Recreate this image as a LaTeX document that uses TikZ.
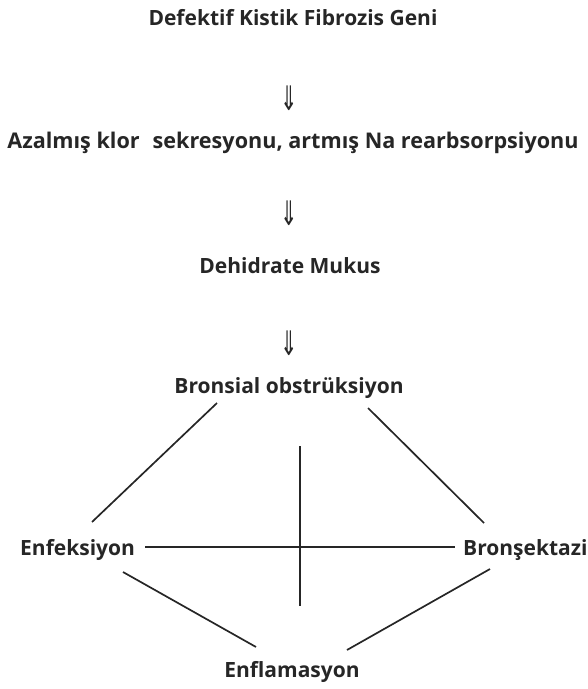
\documentclass[tikz,border=0pt]{standalone}
\usepackage{fontspec}
\setmainfont{Open Sans}
\newfontfamily\arrowfont{DejaVu Sans}
\begin{document}
\begin{tikzpicture}[x=1pt,y=1pt,
  lbl/.style={inner sep=0pt, font=\fontsize{21}{25}\selectfont\bfseries, text=black!85},
  dar/.style={inner sep=0pt, font=\arrowfont\fontsize{26}{28}\selectfont, text=black!85},
  link/.style={line width=1.7pt, black!85}]
\useasboundingbox (0,0) rectangle (588,-689);
\node[lbl, anchor=base] (gene) at (293,-25) {Defektif Kistik Fibrozis Geni};
\node[dar] (ar1) at (289,-98) {\scalebox{0.8}[1.3]{⇓}};
\node[lbl, anchor=base, font=\fontsize{21.6}{25}\selectfont\bfseries] (sec) at (293,-148) {Azalmış klor\hspace{0.6em}sekresyonu, artmış Na rearbsorpsiyonu};
\node[dar] (ar2) at (289,-213) {\scalebox{0.8}[1.3]{⇓}};
\node[lbl, anchor=base] (muk) at (290,-273) {Dehidrate Mukus};
\node[dar] (ar3) at (289,-343) {\scalebox{0.8}[1.3]{⇓}};
\node[lbl, anchor=base] (obs) at (289,-393) {Bronsial obstrüksiyon};
\node[lbl, anchor=base west] (enf) at (20,-555) {Enfeksiyon};
\node[lbl, anchor=base west] (bro) at (463,-555) {Bronşektazi};
\node[lbl, anchor=base] (inf) at (292,-677) {Enflamasyon};
% connector end points
\coordinate (oL) at (217,-403);
\coordinate (eT) at (92,-522);
\coordinate (oR) at (368,-408);
\coordinate (bT) at (484,-523);
\coordinate (eR) at (145,-547);
\coordinate (bL) at (455,-547);
\coordinate (vT) at (300,-446);
\coordinate (vB) at (300,-606);
\coordinate (eB) at (123,-572);
\coordinate (iL) at (256,-647);
\coordinate (bB) at (490,-569);
\coordinate (iR) at (347,-650);
\draw[link] (oL) -- (eT);
\draw[link] (oR) -- (bT);
\draw[link] (eR) -- (bL);
\draw[link] (vT) -- (vB);
\draw[link] (eB) -- (iL);
\draw[link] (bB) -- (iR);
\end{tikzpicture}
\end{document}
